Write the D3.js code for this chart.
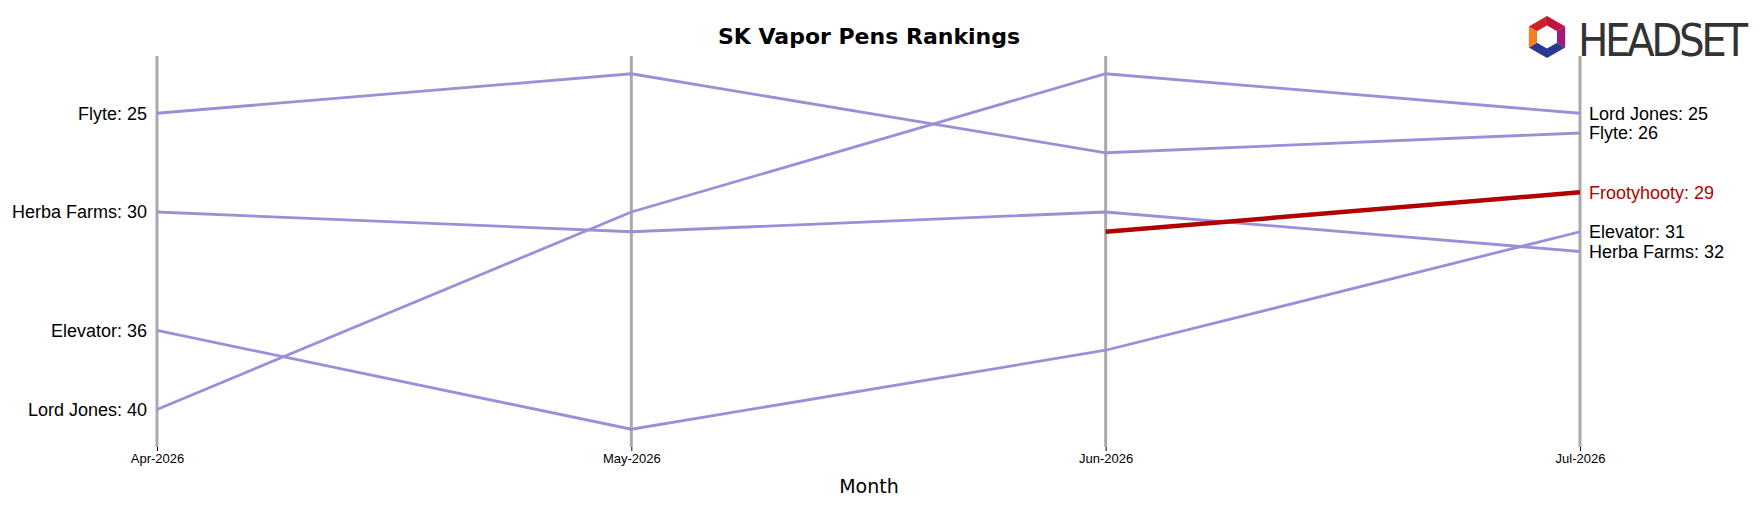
<!DOCTYPE html>
<html><head><meta charset="utf-8">
<script src="https://cdn.jsdelivr.net/npm/d3@7"></script>
<style>body{margin:0;background:#fff;font-family:"DejaVu Sans",sans-serif}</style>
</head><body><svg width="1762" height="506"></svg>
<script>
let months = ["Apr-2026", "May-2026", "Jun-2026", "Jul-2026"];
let brands = ["Flyte", "Herba Farms", "Elevator", "Lord Jones", "Frootyhooty"];
let flyte = [25, 23, 27, 26];
let herba = [30, 31, 30, 32];
let elevator = [36, 41, 37, 31];
let lordJones = [40, 30, 23, 25];
let frooty = [null, null, 31, 29];
let seriesValues = [flyte, herba, elevator, lordJones, frooty];
let highlight = "Frootyhooty";

let svg = d3.select("svg");
let x = d3.scalePoint().domain(months).range([157, 1580]);
let y = d3.scaleLinear().domain([22.1, 41.9]).range([56, 447]);

svg.append("text").attr("x", 869).attr("y", 44).attr("text-anchor", "middle")
    .attr("font-size", 22).attr("font-weight", "bold").text("SK Vapor Pens Rankings");

svg.selectAll(".grid").data(months).enter().append("line")
    .attr("x1", d => x(d)).attr("x2", d => x(d))
    .attr("y1", 56).attr("y2", 447)
    .attr("stroke", "#aaa").attr("stroke-width", 3);

let xAxis = svg.append("g").attr("transform", "translate(0,447)")
    .call(d3.axisBottom(x).tickSize(4));
xAxis.select(".domain").remove();
xAxis.selectAll("text").attr("font-size", 13).attr("fill", "#000");
svg.append("text").attr("x", 869).attr("y", 493).attr("text-anchor", "middle")
    .attr("font-size", 19).text("Month");

let line = d3.line().defined(d => d.v != null).x(d => x(d.m)).y(d => y(d.v));
let data = brands.map((b, i) => ({
    name: b,
    pts: seriesValues[i].map((v, j) => ({m: months[j], v: v}))
}));

svg.selectAll(".series").data(data).enter().append("path")
    .attr("fill", "none")
    .attr("stroke", d => d.name === highlight ? "#b30000" : "#9b8fd9")
    .attr("stroke-width", d => d.name === highlight ? 4.5 : 2.8)
    .attr("d", d => line(d.pts));

// left labels
data.forEach(d => {
    let first = d.pts.find(p => p.v != null);
    if (first.m !== months[0]) return;
    svg.append("text").attr("x", x(first.m) - 10).attr("y", y(first.v))
        .attr("dy", "0.35em").attr("text-anchor", "end").attr("font-size", 18)
        .attr("font-family", "Liberation Sans, Arial, sans-serif")
        .text(d.name + ": " + first.v);
});
// right labels
data.forEach(d => {
    let last = d.pts[d.pts.length - 1];
    svg.append("text").attr("x", x(last.m) + 9).attr("y", y(last.v))
        .attr("dy", "0.35em").attr("font-size", 18)
        .attr("font-family", "Liberation Sans, Arial, sans-serif")
        .attr("fill", d.name === highlight ? "#b30000" : "#000")
        .text(d.name + ": " + last.v);
});

// logo
let logo = svg.append("g").attr("transform", "translate(1547,37)");
let hex = d3.range(6).map(k => [21 * Math.cos(Math.PI / 3 * k - Math.PI / 2), 21 * Math.sin(Math.PI / 3 * k - Math.PI / 2)]);
let cols = ["#c0143c", "#a0187a", "#2b3a8f", "#2b3a8f", "#f08020", "#d0202a"];
hex.forEach((p, k) => {
    let q = hex[(k + 1) % 6];
    logo.append("path").attr("d", "M" + p + "L" + q + "L" + [q[0] * 0.55, q[1] * 0.55] + "L" + [p[0] * 0.55, p[1] * 0.55] + "Z")
        .attr("fill", cols[k]);
});
svg.append("text").attr("x", 1578).attr("y", 56).attr("font-size", 45)
    .attr("font-family", "DejaVu Sans Condensed, sans-serif").attr("fill", "#333")
    .attr("textLength", 170).text("HEADSET");
</script></body></html>
